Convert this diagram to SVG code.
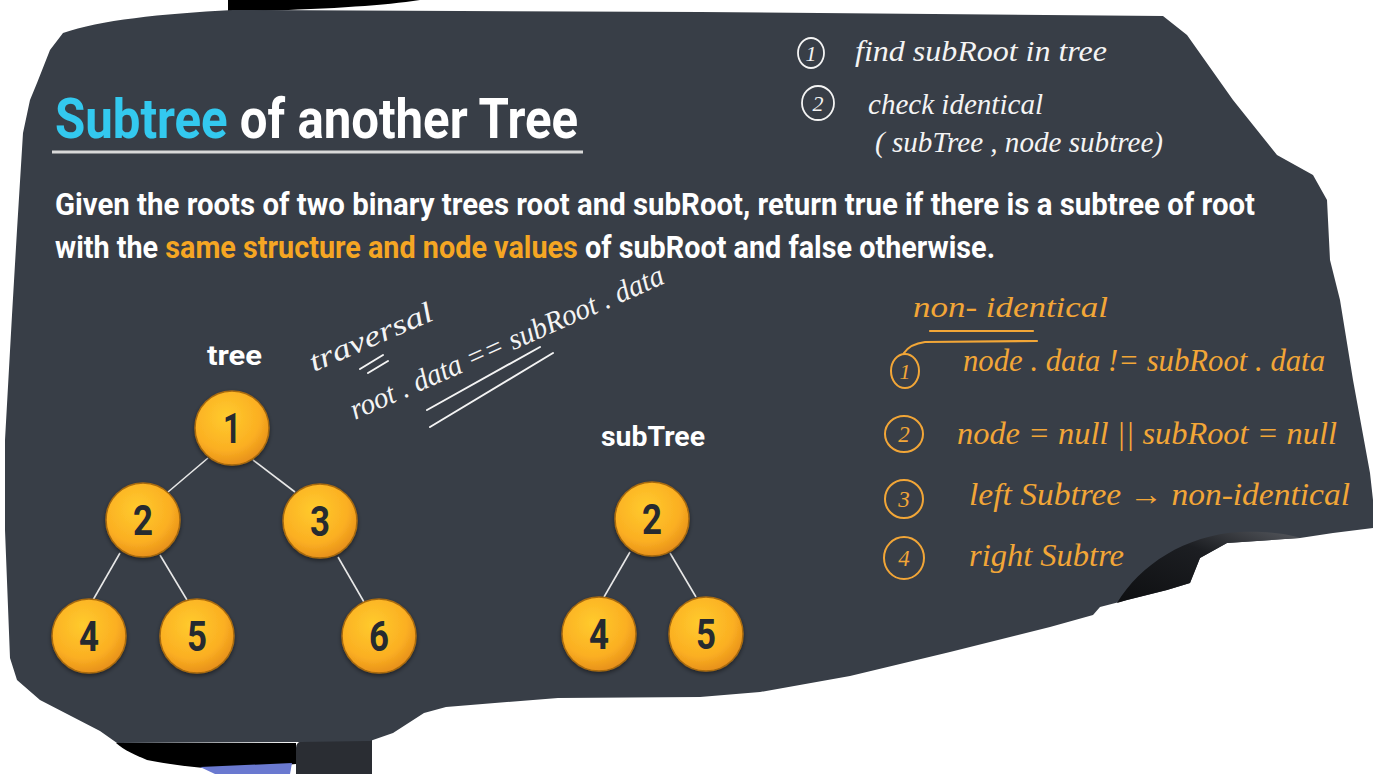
<svg xmlns="http://www.w3.org/2000/svg" width="1373" height="774" viewBox="0 0 1373 774">
<defs>
<radialGradient id="ng" cx="42%" cy="35%" r="65%">
<stop offset="0" stop-color="#ffcb2e"/>
<stop offset="0.7" stop-color="#fbaf22"/>
<stop offset="1" stop-color="#e8921a"/>
</radialGradient>
<linearGradient id="arcg" x1="0" y1="1" x2="1" y2="0">
<stop offset="0" stop-color="#0e0f11"/>
<stop offset="0.6" stop-color="#1c1e22"/>
<stop offset="1" stop-color="#55585e"/>
</linearGradient>
<linearGradient id="titleg" gradientUnits="userSpaceOnUse" x1="55" y1="0" x2="578" y2="0">
<stop offset="0" stop-color="#33c9ef"/>
<stop offset="0.342" stop-color="#33c9ef"/>
<stop offset="0.342" stop-color="#ffffff"/>
<stop offset="1" stop-color="#ffffff"/>
</linearGradient>
<filter id="sh" x="-20%" y="-20%" width="140%" height="150%">
<feDropShadow dx="0" dy="2" stdDeviation="2" flood-color="#000" flood-opacity="0.45"/>
</filter>
<style>
.bold{font-family:Roboto,"Liberation Sans",sans-serif;font-weight:700}
.node circle{fill:url(#ng);stroke:#a86a10;stroke-width:1.5;filter:url(#sh)}
.node text{font-family:Roboto,"Liberation Sans",sans-serif;font-weight:700;font-size:42px;fill:#262a30;text-anchor:middle}
.edge{stroke:#e8e8e8;stroke-width:1.6}
.hw{font-family:"Liberation Serif",serif;font-style:italic}
.hwW{fill:#f4f4f4}
.hwO{fill:#f2a637}
.cW{fill:none;stroke:#f4f4f4;stroke-width:1.8}
.cO{fill:none;stroke:#f2a637;stroke-width:2}
.sW{fill:none;stroke:#f4f4f4;stroke-width:2;stroke-linecap:round}
.sO{fill:none;stroke:#f2a637;stroke-width:2.2;stroke-linecap:round}
</style>
</defs>
<rect width="1373" height="774" fill="#ffffff"/>
<g id="backdrop">
<path d="M228,0 L420,0 C380,6 330,9 228,12 Z" fill="#000"/>
<path d="M116,743 L296,743 L296,764 L230,770 C200,768 170,765 147,760 C135,755 124,750 116,743 Z" fill="#000"/>
<path d="M200,767 L292,763 L290,774 L215,774 Z" fill="#6a79d0"/>
<path d="M296,748 Q296,741 304,741 L372,740 L372,774 L296,774 Z" fill="#2a2d33"/>
<path d="M63,33 C100,20 160,14 233,10 L700,12 L1163,16 L1187,35 L1233,100 L1277,155 L1313,175 L1327,200 L1330,260 L1340,300 L1353,380 L1370,473 L1373,500 L1373,528 L1333,533 L1300,538 L1227,543 L1200,558 L1190,583 L1167,590 L1127,600 L1100,607 L1093,615 L1050,627 L950,652 L850,676 L760,692 L700,697 L558,698 L446,707 L424,713 L393,733 L370,741 L300,742 L117,743 L100,731 L40,700 L17,680 L10,658 L5,530 L5,440 L12,315 L17,230 L23,133 L30,100 L37,83 L50,50 Z" fill="#383e47"/>
<path d="M1117,603 C1140,565 1185,535 1240,532 C1268,531 1288,534 1300,538 L1227,543 L1200,558 L1190,583 L1167,590 L1127,600 Z" fill="url(#arcg)"/>
</g>
<g id="title">
<text class="bold" x="55" y="138" font-size="56" fill="url(#titleg)" textLength="523" lengthAdjust="spacingAndGlyphs">Subtree of another Tree</text>
<line x1="52" y1="152" x2="583" y2="152" stroke="#d9d9d9" stroke-width="3"/>
</g>
<g id="description">
<text class="bold" x="55" y="215" font-size="31" fill="#ffffff" textLength="1200" lengthAdjust="spacingAndGlyphs">Given the roots of two binary trees root and subRoot, return true if there is a subtree of root</text>
<text class="bold" x="55" y="258" font-size="31" fill="#ffffff" textLength="940" lengthAdjust="spacingAndGlyphs">with the <tspan fill="#f5a623">same structure and node values</tspan> of subRoot and false otherwise.</text>
</g>
<g id="labels">
<text class="bold" x="207" y="365" font-size="28" fill="#ffffff" textLength="55" lengthAdjust="spacingAndGlyphs">tree</text>
<text class="bold" x="601" y="446" font-size="28" fill="#ffffff" textLength="104" lengthAdjust="spacingAndGlyphs">subTree</text>
</g>
<g id="connectors">
<line class="edge" x1="208" y1="458" x2="168" y2="492"/>
<line class="edge" x1="253" y1="460" x2="295" y2="492"/>
<line class="edge" x1="120" y1="553" x2="93" y2="600"/>
<line class="edge" x1="160" y1="555" x2="187" y2="600"/>
<line class="edge" x1="338" y1="557" x2="364" y2="602"/>
<line class="edge" x1="630" y1="552" x2="604" y2="597"/>
<line class="edge" x1="670" y1="553" x2="696" y2="597"/>
</g>
<g id="t1" class="node"><circle cx="232" cy="428" r="37"/><text x="232" y="443" textLength="18" lengthAdjust="spacingAndGlyphs">1</text></g>
<g id="t2" class="node"><circle cx="143" cy="520" r="37"/><text x="143" y="535" textLength="20" lengthAdjust="spacingAndGlyphs">2</text></g>
<g id="t3" class="node"><circle cx="320" cy="521" r="37"/><text x="320" y="536" textLength="20" lengthAdjust="spacingAndGlyphs">3</text></g>
<g id="t4" class="node"><circle cx="89" cy="636" r="37"/><text x="89" y="651" textLength="20" lengthAdjust="spacingAndGlyphs">4</text></g>
<g id="t5" class="node"><circle cx="197" cy="636" r="37"/><text x="197" y="651" textLength="20" lengthAdjust="spacingAndGlyphs">5</text></g>
<g id="t6" class="node"><circle cx="379" cy="636" r="37"/><text x="379" y="651" textLength="20" lengthAdjust="spacingAndGlyphs">6</text></g>
<g id="s2" class="node"><circle cx="652" cy="519" r="37"/><text x="652" y="534" textLength="20" lengthAdjust="spacingAndGlyphs">2</text></g>
<g id="s4" class="node"><circle cx="599" cy="634" r="37"/><text x="599" y="649" textLength="20" lengthAdjust="spacingAndGlyphs">4</text></g>
<g id="s5" class="node"><circle cx="706" cy="634" r="37"/><text x="706" y="649" textLength="20" lengthAdjust="spacingAndGlyphs">5</text></g>
<g id="notes-top">
<ellipse class="cW" cx="811" cy="53" rx="13" ry="15"/>
<text class="hw hwW" x="811" y="61" font-size="22" text-anchor="middle">1</text>
<ellipse class="cW" cx="818" cy="103" rx="16" ry="17"/>
<text class="hw hwW" x="818" y="111" font-size="22" text-anchor="middle">2</text>
<text class="hw hwW" x="855" y="61" font-size="30" textLength="252" lengthAdjust="spacingAndGlyphs">find subRoot in tree</text>
<text class="hw hwW" x="868" y="114" font-size="30" textLength="175" lengthAdjust="spacingAndGlyphs">check identical</text>
<text class="hw hwW" x="875" y="152" font-size="30" textLength="288" lengthAdjust="spacingAndGlyphs">( subTree , node subtree)</text>
</g>
<g id="notes-traversal">
<text class="hw hwW" x="314" y="372" font-size="29" transform="rotate(-23.5 314 372)" textLength="132" lengthAdjust="spacingAndGlyphs">traversal</text>
<path class="sW" d="M360,369 L383,355 M368,373 L388,361"/>
<text class="hw hwW" x="355" y="420" font-size="30" transform="rotate(-23.8 355 420)" textLength="340" lengthAdjust="spacingAndGlyphs">root . data == subRoot . data</text>
<path class="sW" d="M427,410 L540,347 M430,427 L553,353"/>
</g>
<g id="notes-nonidentical">
<text class="hw hwO" x="913" y="317" font-size="30" textLength="195" lengthAdjust="spacingAndGlyphs">non- identical</text>
<path class="sO" d="M930,331 L1033,331 M1037,341 L925,342 Q910,344 904,353"/>
<ellipse class="cO" cx="905" cy="371" rx="14" ry="17"/>
<text class="hw hwO" x="905" y="379" font-size="22" text-anchor="middle">1</text>
<text class="hw hwO" x="963" y="371" font-size="31" textLength="362" lengthAdjust="spacingAndGlyphs">node . data != subRoot . data</text>
<ellipse class="cO" cx="904" cy="434" rx="19" ry="18"/>
<text class="hw hwO" x="904" y="442" font-size="23" text-anchor="middle">2</text>
<text class="hw hwO" x="957" y="444" font-size="31" textLength="380" lengthAdjust="spacingAndGlyphs">node = null || subRoot = null</text>
<ellipse class="cO" cx="904" cy="499" rx="19" ry="19"/>
<text class="hw hwO" x="904" y="507" font-size="23" text-anchor="middle">3</text>
<text class="hw hwO" x="969" y="505" font-size="31" textLength="381" lengthAdjust="spacingAndGlyphs">left Subtree → non-identical</text>
<ellipse class="cO" cx="904" cy="558" rx="20" ry="21"/>
<text class="hw hwO" x="904" y="566" font-size="23" text-anchor="middle">4</text>
<text class="hw hwO" x="969" y="566" font-size="31" textLength="155" lengthAdjust="spacingAndGlyphs">right Subtre</text>
</g>
</svg>
